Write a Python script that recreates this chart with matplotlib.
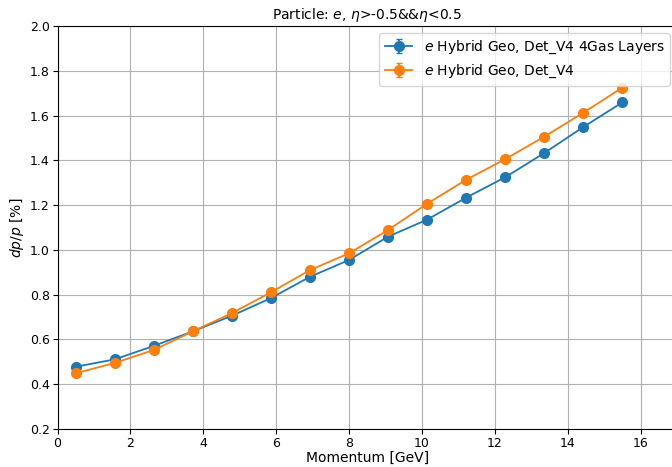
import numpy as np
import matplotlib
matplotlib.use("Agg")
import matplotlib.pyplot as plt

momentum = [0.5, 1.57, 2.64, 3.71, 4.79, 5.86, 6.93, 8.0, 9.07, 10.14, 11.21, 12.29, 13.36, 14.43, 15.5]

dpp_4gas = [0.478, 0.511, 0.571, 0.636, 0.706, 0.785, 0.880, 0.955, 1.059, 1.135,
            1.233, 1.325, 1.433, 1.549, 1.659]
dpp_v4 = [0.449, 0.495, 0.553, 0.636, 0.718, 0.811, 0.910, 0.985, 1.089, 1.206,
          1.313, 1.406, 1.506, 1.613, 1.725]

err_4gas = [0.002] * len(momentum)
err_v4 = [0.002] * len(momentum)

label_4gas = "$e$ Hybrid Geo, Det_V4 4Gas Layers"
label_v4 = "$e$ Hybrid Geo, Det_V4"

fig = plt.figure(figsize=(6.72, 4.67), dpi=100)
ax = fig.add_axes([0.0856, 0.0814, 0.922, 0.863])

ax.errorbar(momentum, dpp_4gas, yerr=err_4gas, color='#1f77b4', marker='o',
            markersize=7, lw=1.3, capsize=2, label=label_4gas)
ax.errorbar(momentum, dpp_v4, yerr=err_v4, color='#ff7f0e', marker='o',
            markersize=7, lw=1.3, capsize=2, label=label_v4)

ax.set_xlim(0, 17)
ax.set_ylim(0.2, 2.0)
ax.set_xticks(np.arange(0, 17, 2))
ax.set_yticks(np.arange(0.2, 2.01, 0.2))
ax.tick_params(labelsize=9, pad=2)
ax.grid(True, color='#b0b0b0', lw=0.8)
ax.set_xlabel('Momentum [GeV]', fontsize=10, labelpad=1)
ax.set_ylabel('$dp/p$ [%]', fontsize=10, labelpad=3)
ax.set_title('Particle: $e$, $\\eta$>-0.5&&$\\eta$<0.5', fontsize=10, pad=5)
ax.legend(loc='upper right', fontsize=10)

fig.savefig('out.png', dpi=100)
